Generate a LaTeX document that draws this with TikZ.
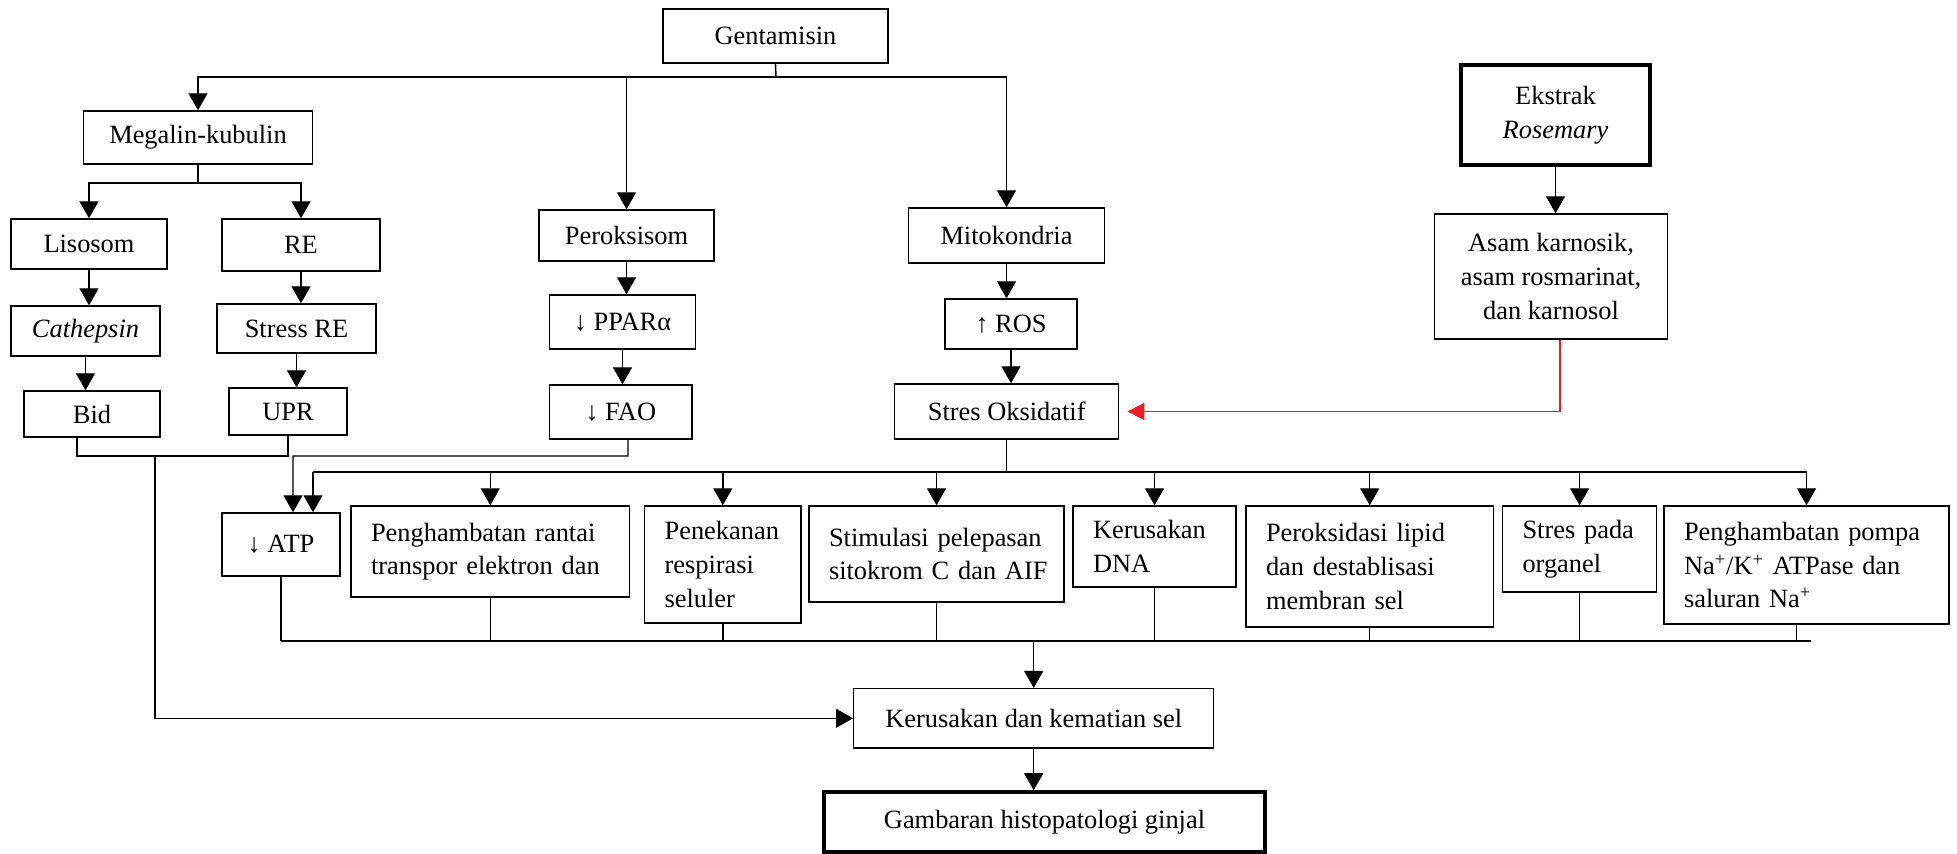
\documentclass[tikz,border=0pt]{standalone}
\usepackage{fontspec}
\setmainfont{Liberation Serif}
\usetikzlibrary{arrows.meta}
\hyphenpenalty=10000
\definecolor{redarr}{RGB}{235,30,35}
\begin{document}
\begin{tikzpicture}[x=0.5pt,y=-0.5pt,
  txt/.style={font=\fontsize{13.2}{16.8}\selectfont},
  box/.style 2 args={draw, line width=0.7pt, inner sep=0pt, align=center, txt, minimum width=#1, minimum height=#2},
  lbox/.style n args={3}{draw, line width=0.7pt, inner xsep=10pt, inner ysep=0pt, align=left, txt, minimum width=#1, minimum height=#2, text width=#3},
  arr/.style={-{Triangle[length=8.5pt,width=9.5pt]}, line width=0.7pt},
  ln/.style={line width=0.7pt},
]
\useasboundingbox (0,0) rectangle (1957,854);

% top level
\node[box={112.5pt}{27pt}, line width=1.1pt] (gent) at (775.5,36) {Gentamisin};
\node[box={114.5pt}{26.5pt}] (mega) at (198,137.5) {Megalin-kubulin};
\node[box={78pt}{25pt}] (lis) at (89,244) {Lisosom};
\node[box={79pt}{26pt}] (re) at (301,245) {RE};
\node[box={74.5pt}{25pt}] (cath) at (85.5,331) {\textit{Cathepsin}};
\node[box={79.5pt}{24.5pt}] (sre) at (296.5,328.5) {Stress RE};
\node[box={68pt}{23pt}] (bid) at (92,414) {Bid};
\node[box={59pt}{23.5pt}] (upr) at (288,411.5) {UPR};
\node[box={87.5pt}{25.5pt}] (perok) at (626.5,235.5) {Peroksisom};
\node[box={73pt}{27pt}] (ppar) at (622.5,322) {↓ PPARα};
\node[box={71.25pt}{27pt}] (fao) at (620.75,412) {↓ FAO};
\node[box={98pt}{27.5pt}] (mito) at (1006.5,235.5) {Mitokondria};
\node[box={66pt}{25pt}] (ros) at (1011,324) {↑ ROS};
\node[box={112pt}{27.5pt}] (stres) at (1006.7,411.5) {Stres Oksidatif};
\node[box={94.5pt}{50pt}, line width=1.8pt, font=\fontsize{13.2}{17}\selectfont] (ekstrak) at (1555.5,115) {Ekstrak\\\textit{Rosemary}};
\node[box={116.75pt}{62.5pt}] (asam) at (1551,276.5) {Asam karnosik,\\asam rosmarinat,\\dan karnosol};

% middle row
\node[box={59pt}{31.5pt}] (atp) at (281,544.5) {↓ ATP};
\node[lbox={139.25pt}{45.5pt}{119.25pt}] (rantai) at (490.25,551.5) {\mbox{Penghambatan rantai}\\\mbox{transpor elektron dan}};
\node[lbox={78.2pt}{58.5pt}{58.2pt}] (pene) at (722.8,564.5) {\mbox{Penekanan}\\\mbox{respirasi}\\\mbox{seluler}};
\node[lbox={127.5pt}{48pt}{107.5pt}] (stim) at (936.5,554) {\mbox{Stimulasi pelepasan}\\\mbox{sitokrom C dan AIF}};
\node[lbox={81.5pt}{40.5pt}{61.5pt}] (dna) at (1154.5,546.5) {\mbox{Kerusakan}\\\mbox{DNA}};
\node[lbox={123.75pt}{60.5pt}{103.75pt}] (perox) at (1369.75,566.5) {\mbox{Peroksidasi lipid}\\\mbox{dan destablisasi}\\\mbox{membran sel}};
\node[lbox={77.1pt}{43pt}{57.1pt}] (org) at (1579.6,549) {\mbox{Stres pada}\\\mbox{organel}};
\node[lbox={142.5pt}{59pt}{122.5pt}] (pompa) at (1806.5,565) {\mbox{Penghambatan pompa}\\\mbox{Na\textsuperscript{+}/K\textsuperscript{+} ATPase dan}\\\mbox{saluran Na\textsuperscript{+}}};

% bottom
\node[box={180pt}{29.65pt}] (ker) at (1033.7,718.3) {Kerusakan dan kematian sel};
\node[box={220.5pt}{30pt}, line width=1.8pt] (gamb) at (1044.5,822) {Gambaran histopatologi ginjal};

% Gentamisin branches
\coordinate (g1) at (776,77);
\draw[ln] (gent.south) -- (g1);
\draw[arr] (g1) -| (mega.north);
\draw[arr] (g1) -| (mito.north);
\draw[arr] (perok.north |- g1) -- (perok.north);

% Megalin branches
\coordinate (m1) at (198,183);
\draw[ln] (mega.south) -- (m1);
\draw[arr] (m1) -| (lis.north);
\draw[arr] (m1) -| (re.north);

% vertical chains
\draw[arr] (lis.south) -- (lis.south |- cath.north);
\draw[arr] (cath.south) -- (cath.south |- bid.north);
\draw[arr] (re.south) -- (re.south |- sre.north);
\draw[arr] (sre.south) -- (sre.south |- upr.north);
\draw[arr] (perok.south) -- (perok.south |- ppar.north);
\draw[arr] (ppar.south) -- (ppar.south |- fao.north);
\draw[arr] (mito.south) -- (mito.south |- ros.north);
\draw[arr] (ros.south) -- (ros.south |- stres.north);
\draw[arr] (ekstrak.south) -- (ekstrak.south |- asam.north);

% red inhibition arrow
\coordinate (asamB) at ([xshift=4.5pt]asam.south);
\draw[-{Triangle[length=8.5pt,width=8.5pt]}, line width=0.9pt, redarr, shorten >=4pt] (asamB) |- (stres.east);

% Bid / UPR join
\coordinate (bidS) at ([xshift=-7.5pt]bid.south);
\coordinate (j1) at (155,456);
\draw[ln] (bidS) |- (j1) -| (upr.south);
\draw[arr] (j1) |- (ker.west);

% FAO -> ATP
\coordinate (atpA) at ([xshift=6pt]atp.north);
\coordinate (atpB) at ([xshift=16pt]atp.north);
\coordinate (faoS) at ([xshift=3.6pt]fao.south);
\coordinate (f1) at (628,456);
\draw[arr] (faoS) -- (f1) -| (atpA);

% Stres oksidatif bus
\coordinate (busy) at (0,472);
\draw[ln] (stres.south) -- (stres.south |- busy);
\draw[ln] (atpB |- busy) -- (pompa.north |- busy);
\draw[arr] (atpB |- busy) -- (atpB);
\draw[arr] (rantai.north |- busy) -- (rantai.north);
\draw[arr] (pene.north |- busy) -- (pene.north);
\draw[arr] (stim.north |- busy) -- (stim.north);
\draw[arr] (dna.north |- busy) -- (dna.north);
\draw[arr] (perox.north |- busy) -- (perox.north);
\draw[arr] (org.north |- busy) -- (org.north);
\draw[arr] (pompa.north |- busy) -- (pompa.north);

% bottom bus
\coordinate (boty) at (0,641);
\coordinate (bend) at (1811,641);
\draw[ln] (atp.south) -- (atp.south |- boty);
\draw[ln] (rantai.south) -- (rantai.south |- boty);
\draw[ln] (pene.south) -- (pene.south |- boty);
\draw[ln] (stim.south) -- (stim.south |- boty);
\draw[ln] (dna.south) -- (dna.south |- boty);
\draw[ln] (perox.south) -- (perox.south |- boty);
\draw[ln] (org.south) -- (org.south |- boty);
\draw[ln] ([xshift=-5pt]pompa.south) -- ([xshift=-5pt]pompa.south |- boty);
\draw[ln] (atp.south |- boty) -- (bend);
\draw[arr] (ker.north |- boty) -- (ker.north);
\draw[arr] (ker.south) -- (ker.south |- gamb.north);
\end{tikzpicture}
\end{document}
